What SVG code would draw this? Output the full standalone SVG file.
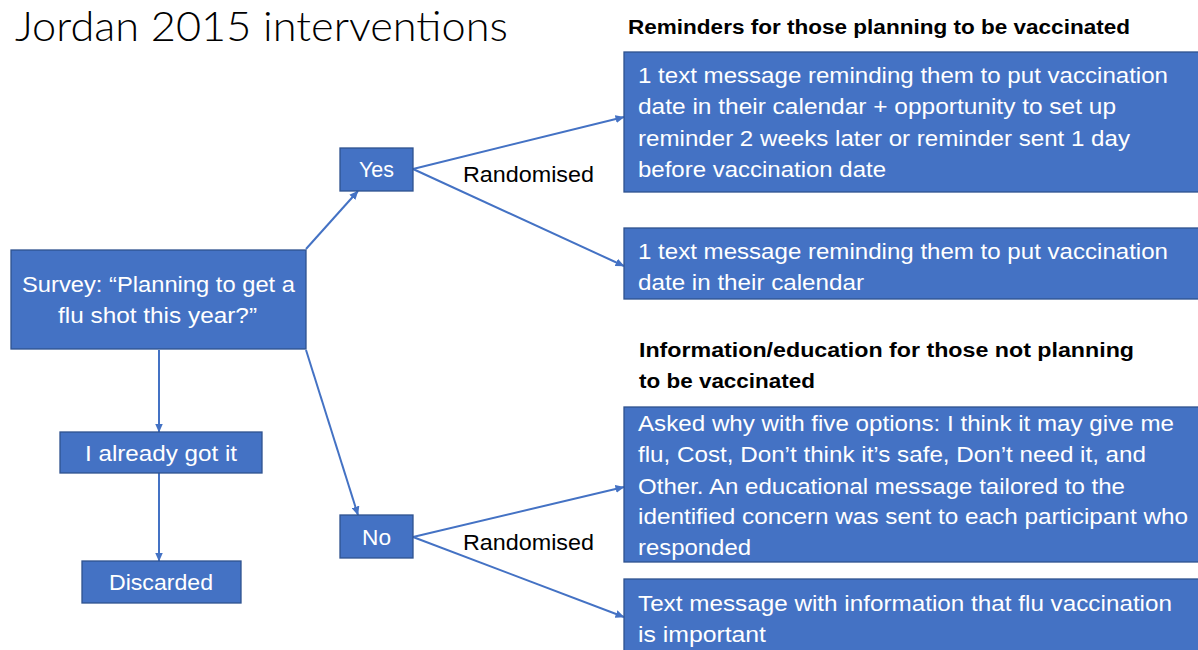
<svg xmlns="http://www.w3.org/2000/svg" width="1198" height="650" viewBox="0 0 1198 650">
<style>
.box{fill:#4472C4;stroke:#2F528F;stroke-width:1.3}
.wt{fill:#ffffff;font-family:"Liberation Sans",Arial,sans-serif;font-size:21.5px}
.bt{fill:#000000;font-family:"Liberation Sans",Arial,sans-serif;font-size:21.5px}
.hd{fill:#000000;font-family:"Liberation Sans",Arial,sans-serif;font-size:19.5px;font-weight:bold}
.ttl{fill:#000000;font-family:Lato,"Open Sans","Liberation Sans",sans-serif;font-size:42px;font-weight:300}
.ln{stroke:#4472C4;stroke-width:2;fill:none;marker-end:url(#ah)}
</style>
<defs>
<marker id="ah" markerWidth="9" markerHeight="8" refX="8.5" refY="4" orient="auto" markerUnits="userSpaceOnUse">
<path d="M0,0 L9,4 L0,8 Z" fill="#4472C4"/>
</marker>
</defs>
<rect width="1198" height="650" fill="#ffffff"/>
<text class="ttl" x="15" y="41" textLength="493" lengthAdjust="spacingAndGlyphs">Jordan 2015 interventions</text>
<text class="hd" x="628" y="34" textLength="502" lengthAdjust="spacingAndGlyphs">Reminders for those planning to be vaccinated</text>
<text class="hd" x="639" y="357" textLength="495" lengthAdjust="spacingAndGlyphs">Information/education for those not planning</text>
<text class="hd" x="639" y="388" textLength="176" lengthAdjust="spacingAndGlyphs">to be vaccinated</text>
<g id="connectors">
<line class="ln" x1="306" y1="249" x2="358" y2="191"/>
<line class="ln" x1="306" y1="350" x2="358" y2="515"/>
<line class="ln" x1="159" y1="350" x2="159" y2="432"/>
<line class="ln" x1="159" y1="473" x2="159" y2="561"/>
<line class="ln" x1="413" y1="169" x2="624" y2="117"/>
<line class="ln" x1="413" y1="169" x2="624" y2="266"/>
<line class="ln" x1="413" y1="537" x2="624" y2="487"/>
<line class="ln" x1="413" y1="537" x2="624" y2="617"/>
<text class="bt" x="463" y="182" textLength="131" lengthAdjust="spacingAndGlyphs">Randomised</text>
<text class="bt" x="463" y="550" textLength="131" lengthAdjust="spacingAndGlyphs">Randomised</text>
</g>
<g id="survey">
<rect class="box" x="11" y="250" width="295" height="99"/>
<text class="wt" x="22" y="292" textLength="273" lengthAdjust="spacingAndGlyphs">Survey: “Planning to get a</text>
<text class="wt" x="58" y="323" textLength="199" lengthAdjust="spacingAndGlyphs">flu shot this year?”</text>
</g>
<g id="yes">
<rect class="box" x="340" y="148" width="73" height="43"/>
<text class="wt" x="359" y="177" textLength="35" lengthAdjust="spacingAndGlyphs">Yes</text>
</g>
<g id="no">
<rect class="box" x="340" y="515" width="73" height="43"/>
<text class="wt" x="362" y="545" textLength="29" lengthAdjust="spacingAndGlyphs">No</text>
</g>
<g id="already">
<rect class="box" x="60" y="432" width="202" height="41"/>
<text class="wt" x="85" y="461" textLength="152" lengthAdjust="spacingAndGlyphs">I already got it</text>
</g>
<g id="discarded">
<rect class="box" x="82" y="561" width="159" height="42"/>
<text class="wt" x="109" y="590" textLength="104" lengthAdjust="spacingAndGlyphs">Discarded</text>
</g>
<g id="reminder-full">
<rect class="box" x="624" y="52" width="576" height="140"/>
<text class="wt" x="638" y="83" textLength="530" lengthAdjust="spacingAndGlyphs">1 text message reminding them to put vaccination</text>
<text class="wt" x="638" y="114" textLength="478" lengthAdjust="spacingAndGlyphs">date in their calendar + opportunity to set up</text>
<text class="wt" x="638" y="146" textLength="492" lengthAdjust="spacingAndGlyphs">reminder 2 weeks later or reminder sent 1 day</text>
<text class="wt" x="638" y="177" textLength="248" lengthAdjust="spacingAndGlyphs">before vaccination date</text>
</g>
<g id="reminder-simple">
<rect class="box" x="624" y="228" width="576" height="71"/>
<text class="wt" x="638" y="259" textLength="530" lengthAdjust="spacingAndGlyphs">1 text message reminding them to put vaccination</text>
<text class="wt" x="638" y="290" textLength="226" lengthAdjust="spacingAndGlyphs">date in their calendar</text>
</g>
<g id="education-tailored">
<rect class="box" x="624" y="407" width="576" height="155"/>
<text class="wt" x="638" y="431" textLength="536" lengthAdjust="spacingAndGlyphs">Asked why with five options: I think it may give me</text>
<text class="wt" x="638" y="462" textLength="508" lengthAdjust="spacingAndGlyphs">flu, Cost, Don’t think it’s safe, Don’t need it, and</text>
<text class="wt" x="638" y="494" textLength="487" lengthAdjust="spacingAndGlyphs">Other. An educational message tailored to the</text>
<text class="wt" x="638" y="524" textLength="550" lengthAdjust="spacingAndGlyphs">identified concern was sent to each participant who</text>
<text class="wt" x="638" y="555" textLength="113" lengthAdjust="spacingAndGlyphs">responded</text>
</g>
<g id="education-info">
<rect class="box" x="624" y="579" width="576" height="80"/>
<text class="wt" x="638" y="611" textLength="534" lengthAdjust="spacingAndGlyphs">Text message with information that flu vaccination</text>
<text class="wt" x="638" y="642" textLength="128" lengthAdjust="spacingAndGlyphs">is important</text>
</g>
</svg>
